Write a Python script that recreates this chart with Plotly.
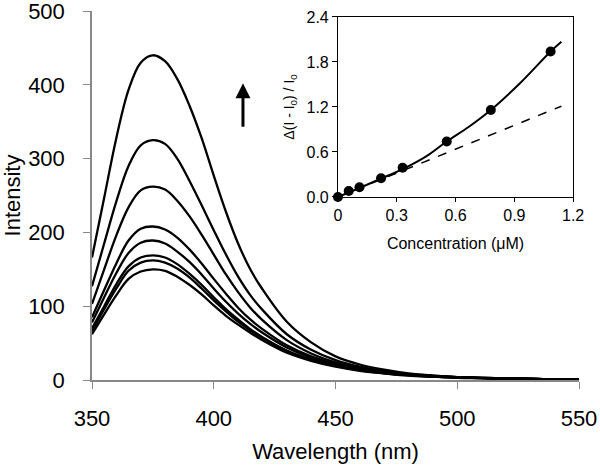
import plotly.graph_objects as go

wavelength = [350, 355, 360, 365, 370, 375, 380, 385, 390, 395, 400, 405, 410, 415, 420,
              430, 440, 450, 460, 470, 480, 490, 500, 510, 520, 530, 540, 550]

spec1 = [166, 247, 328, 393, 430, 440, 432, 408, 372, 328, 277, 228, 185, 150, 123, 79, 51, 32, 21, 14, 9, 6, 4, 3, 2, 1.5, 1, 1]
spec2 = [127, 185, 242, 290, 318, 325, 320, 300, 270, 237, 203, 170, 140, 115, 95, 62, 41, 27, 18, 12, 8, 6, 4, 3, 2, 1.5, 1, 1]
spec3 = [103, 150, 196, 234, 257, 262, 258, 243, 222, 197, 170, 143, 119, 98, 81, 54, 36, 24, 16, 11, 8, 5, 4, 3, 2, 1.5, 1, 1]
spec4 = [85, 122, 158, 189, 205, 208, 204, 193, 177, 158, 137, 117, 98, 82, 69, 47, 32, 22, 15, 10, 7, 5, 4, 3, 2, 1.5, 1, 1]
spec5 = [78, 112, 145, 172, 186, 189, 185, 174, 160, 143, 124, 106, 90, 76, 64, 44, 30, 21, 14, 10, 7, 5, 3.5, 2.5, 2, 1.5, 1, 1]
spec6 = [70, 100, 130, 154, 166, 169, 166, 157, 144, 129, 112, 96, 82, 69, 58, 40, 28, 20, 14, 9.5, 6.5, 4.5, 3.5, 2.5, 2, 1.5, 1, 1]
spec7 = [66, 96, 124, 148, 159, 162, 159, 151, 139, 124, 108, 93, 79, 67, 57, 39, 27, 19, 13, 9, 6.5, 4.5, 3.5, 2.5, 2, 1.5, 1, 1]
spec8 = [62, 89, 115, 137, 147, 150, 148, 140, 129, 116, 101, 87, 75, 64, 54, 37, 26, 18, 12.5, 9, 6, 4.5, 3, 2.5, 2, 1.5, 1, 1]
spectra = [spec1, spec2, spec3, spec4, spec5, spec6, spec7, spec8]

conc = [0, 0.055, 0.11, 0.22, 0.33, 0.555, 0.78, 1.085]
ratio = [0, 0.08, 0.13, 0.25, 0.39, 0.74, 1.16, 1.94]
fit_x = [0, 0.11, 0.22, 0.33, 0.45, 0.555, 0.67, 0.78, 0.93, 1.085, 1.14]
fit_y = [0, 0.12, 0.245, 0.37, 0.54, 0.74, 0.94, 1.16, 1.52, 1.94, 2.07]
lin_x = [0, 1.14]
lin_y = [0, 1.21]

FONT = "Liberation Sans, Arial, sans-serif"

fig = go.Figure()
for s in spectra:
    fig.add_trace(go.Scatter(x=wavelength, y=s, mode="lines", line=dict(color="black", width=2.3, shape="spline"),
                             showlegend=False, hoverinfo="skip"))

fig.add_trace(go.Scatter(x=lin_x, y=lin_y, mode="lines", line=dict(color="black", width=1.5, dash="dash"),
                         xaxis="x2", yaxis="y2", showlegend=False))
fig.add_trace(go.Scatter(x=fit_x, y=fit_y, mode="lines", line=dict(color="black", width=2, shape="spline"),
                         xaxis="x2", yaxis="y2", showlegend=False))
fig.add_trace(go.Scatter(x=conc, y=ratio, mode="markers", marker=dict(color="black", size=10),
                         xaxis="x2", yaxis="y2", showlegend=False, cliponaxis=False))

fig.update_layout(
    width=600, height=471,
    margin=dict(l=92, r=21, t=11, b=91),
    paper_bgcolor="white", plot_bgcolor="white",
    font=dict(family=FONT, color="black"),
    xaxis=dict(range=[350, 550], tickvals=[350, 400, 450, 500, 550], showgrid=False, zeroline=False,
               automargin=False, ticklabeloverflow="allow",
               showline=True, linecolor="#888", linewidth=1.5, ticks="outside", ticklen=7, tickcolor="#888",
               ticklabelstandoff=11,
               tickfont=dict(size=22), title=dict(text="Wavelength (nm)", font=dict(size=22), standoff=13)),
    yaxis=dict(range=[0, 500], tickvals=[0, 100, 200, 300, 400, 500], showgrid=False, zeroline=False,
               automargin=False, ticklabeloverflow="allow",
               showline=True, linecolor="#888", linewidth=1.5, ticks="outside", ticklen=7, tickcolor="#888",
               ticklabelstandoff=14,
               tickfont=dict(size=22), title=dict(text="Intensity", font=dict(size=22), standoff=12)),
    xaxis2=dict(domain=[0.505, 0.988], anchor="y2", range=[0, 1.2], tickvals=[0, 0.3, 0.6, 0.9, 1.2],
                ticktext=["0", "0.3", "0.6", "0.9", "1.2"], automargin=False,
                showgrid=False, zeroline=False, showline=True, mirror=True, linecolor="black", linewidth=1,
                ticks="outside", ticklen=4, tickcolor="black", tickfont=dict(size=16),
                ticklabelstandoff=0,
                title=dict(text="Concentration (μM)", font=dict(size=16), standoff=14)),
    yaxis2=dict(domain=[0.496, 0.984], anchor="x2", range=[0, 2.4], tickvals=[0, 0.6, 1.2, 1.8, 2.4],
                ticktext=["0.0", "0.6", "1.2", "1.8", "2.4"], automargin=False,
                showgrid=False, zeroline=False, showline=True, mirror=True, linecolor="black", linewidth=1,
                ticks="outside", ticklen=5, tickcolor="black", tickfont=dict(size=16),
                title=dict(text="Δ(I - I<sub>0</sub>) / I<sub>0</sub>", font=dict(size=14), standoff=8)),
)

fig.add_annotation(x=412, y=402, ax=412, ay=341, xref="x", yref="y", axref="x", ayref="y",
                   text="", showarrow=True, arrowhead=2, arrowsize=1, arrowwidth=3, arrowcolor="black")

fig.write_html("out.html", config={"displayModeBar": False},
               post_script="document.body.style.margin='0';document.body.style.overflow='hidden';")
